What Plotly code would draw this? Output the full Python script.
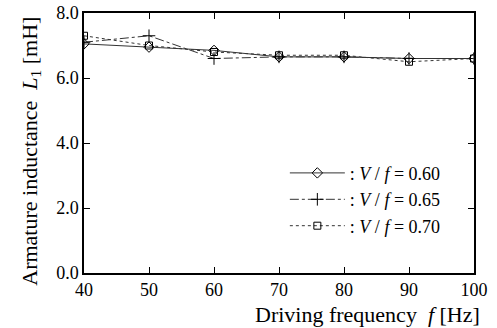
import plotly.graph_objects as go

freq = [40, 50, 60, 70, 80, 90, 100]
L_060 = [7.05, 6.95, 6.85, 6.65, 6.65, 6.60, 6.60]
L_065 = [7.10, 7.30, 6.60, 6.65, 6.65, 6.60, 6.60]
L_070 = [7.30, 7.00, 6.80, 6.70, 6.70, 6.50, 6.60]
x_ticks = [40, 50, 60, 70, 80, 90, 100]
y_ticks = [0.0, 2.0, 4.0, 6.0, 8.0]

font_family = "Liberation Serif, Times New Roman, serif"
FS = 18
TS = 22

fig = go.Figure()
fig.add_trace(go.Scatter(
    x=freq, y=L_060, mode="lines+markers",
    name=": <i>V</i> / <i>f</i> = 0.60",
    line=dict(color="#333", width=1, dash="solid"),
    marker=dict(symbol="diamond-open", size=8, color="black", line=dict(width=1)),
))
fig.add_trace(go.Scatter(
    x=freq, y=L_065, mode="lines+markers",
    name=": <i>V</i> / <i>f</i> = 0.65",
    line=dict(color="#333", width=1, dash="dashdot"),
    marker=dict(symbol="cross-thin-open", size=9, color="black", line=dict(width=1, color="black")),
))
fig.add_trace(go.Scatter(
    x=freq, y=L_070, mode="lines+markers",
    name=": <i>V</i> / <i>f</i> = 0.70",
    line=dict(color="#333", width=1, dash="dot"),
    marker=dict(symbol="square-open", size=7, color="black", line=dict(width=1)),
))

axis_common = dict(
    showline=True, linecolor="black", linewidth=1.5, mirror="ticks",
    ticks="inside", ticklen=6, tickcolor="black", tickwidth=1,
    showgrid=False, zeroline=False, automargin=False,
    tickfont=dict(family=font_family, size=FS, color="black"),
)

fig.update_xaxes(range=[40, 100], tickvals=x_ticks, **axis_common)
fig.update_yaxes(range=[0, 8], tickvals=y_ticks, tickformat=".1f", **axis_common)

fig.update_layout(
    width=497, height=328,
    margin=dict(l=84, r=23, t=13, b=55),
    paper_bgcolor="white", plot_bgcolor="white",
    font=dict(family=font_family, size=FS, color="black"),
    legend=dict(
        x=0.515, y=0.455, xanchor="left", yanchor="top",
        bgcolor="rgba(0,0,0,0)", borderwidth=0,
        font=dict(family=font_family, size=18, color="black"),
        itemwidth=55, tracegroupgap=0,
    ),
    annotations=[
        dict(text="Driving frequency  <i>f</i> [Hz]", xref="paper", yref="paper",
             x=1.02, y=-0.158, xanchor="right", yanchor="middle", showarrow=False,
             font=dict(family=font_family, size=TS, color="black")),
        dict(text="Armature inductance  <i>L</i><sub>1</sub> [mH]", xref="paper", yref="paper",
             x=-0.138, y=0.467, xanchor="center", yanchor="middle", textangle=-90,
             showarrow=False,
             font=dict(family=font_family, size=TS, color="black")),
    ],
)

fig.write_html("out.html", config={"displayModeBar": False},
               post_script="document.body.style.margin='0';")
